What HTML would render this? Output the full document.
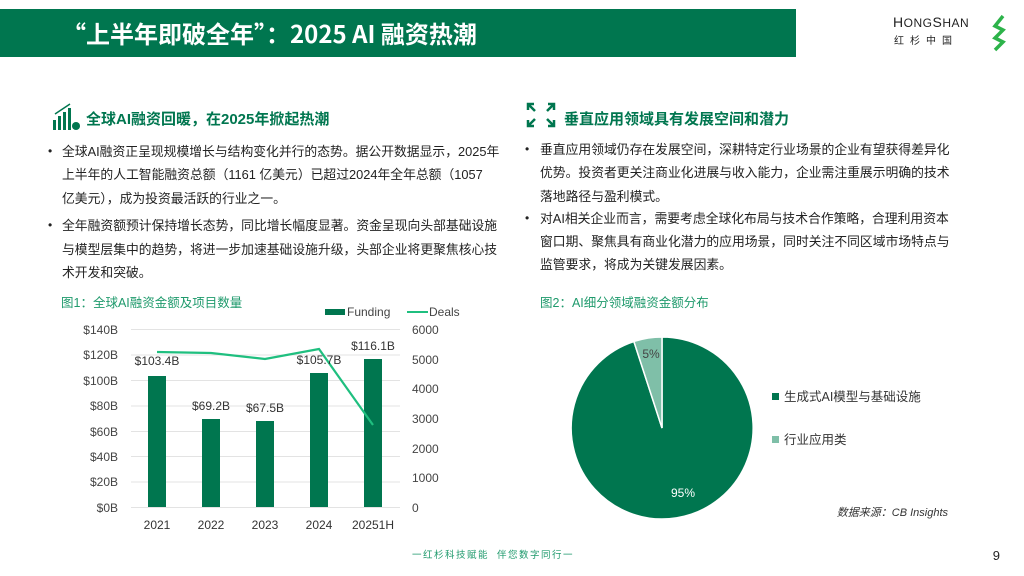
<!DOCTYPE html>
<html><head><meta charset="utf-8"><style>
body{margin:0;width:1024px;height:576px;background:#fff;overflow:hidden;position:relative;font-family:"Liberation Sans","Noto Sans CJK SC",sans-serif}
.t{position:absolute;font-size:12.8px;color:#222;white-space:nowrap;line-height:16px}
.b{position:absolute;font-size:12px;color:#222}
</style></head><body>
<div style="position:absolute;left:0;top:9px;width:796px;height:48px;background:#00764F"></div>
<div style="position:absolute;left:62px;top:14px;color:#fff;font-size:24px;font-weight:bold;line-height:38px;font-family:'Noto Sans CJK SC',sans-serif">“上半年即破全年”：2025 AI 融资热潮</div>
<div style="position:absolute;left:893px;top:14px;font-size:14px;color:#222;letter-spacing:0.5px">H<span style="font-size:12px">ONG</span>S<span style="font-size:12px">HAN</span></div>
<div style="position:absolute;left:894px;top:32px;font-size:10px;color:#222;letter-spacing:6px">红杉中国</div>
<svg style="position:absolute;left:0;top:0" width="1024" height="576">
<path d="M1003 16 L995 26 L1003 30 L995 38 L1003 42 L995 50" stroke="#2db34a" stroke-width="3.5" fill="none"/>
<g fill="#00764F"><rect x="53" y="120" width="3" height="10"/><rect x="58" y="116" width="3" height="14"/><rect x="63" y="112" width="3" height="18"/><rect x="68" y="108" width="3" height="22"/><circle cx="76" cy="126" r="4"/><path d="M55 114 L70 104" stroke="#00764F" stroke-width="1.5"/></g>
<g stroke="#00764F" stroke-width="2.5" fill="none"><path d="M528 110 L528 104 L534 104 M528 104 L535 111"/><path d="M548 104 L554 104 L554 110 M554 104 L547 111"/><path d="M528 120 L528 126 L534 126 M528 126 L535 119"/><path d="M548 126 L554 126 L554 120 M554 126 L547 119"/></g>
<g stroke="#e3e3e3" stroke-width="1">
<line x1="131" x2="400" y1="329.5" y2="329.5"/><line x1="131" x2="400" y1="355" y2="355"/><line x1="131" x2="400" y1="380.5" y2="380.5"/><line x1="131" x2="400" y1="406" y2="406"/><line x1="131" x2="400" y1="431.5" y2="431.5"/><line x1="131" x2="400" y1="456.5" y2="456.5"/><line x1="131" x2="400" y1="482" y2="482"/><line x1="131" x2="400" y1="507.5" y2="507.5"/></g>
<g fill="#00764F"><rect x="148" y="376" width="18" height="131"/><rect x="202" y="419" width="18" height="88"/><rect x="256" y="421" width="18" height="86"/><rect x="310" y="373" width="18" height="134"/><rect x="364" y="359" width="18" height="148"/></g>
<polyline points="157,352 211,353 265,359 319,349 373,425" fill="none" stroke="#1fbf7f" stroke-width="2.2"/>
<g font-size="12" fill="#333" text-anchor="middle">
<text x="157" y="365">$103.4B</text><text x="211" y="410">$69.2B</text><text x="265" y="412">$67.5B</text><text x="319" y="364">$105.7B</text><text x="373" y="350">$116.1B</text>
<text x="157" y="529">2021</text><text x="211" y="529">2022</text><text x="265" y="529">2023</text><text x="319" y="529">2024</text><text x="373" y="529">20251H</text></g>
<g font-size="12" fill="#444" text-anchor="end">
<text x="118" y="334">$140B</text><text x="118" y="359">$120B</text><text x="118" y="385">$100B</text><text x="118" y="410">$80B</text><text x="118" y="436">$60B</text><text x="118" y="461">$40B</text><text x="118" y="486">$20B</text><text x="118" y="512">$0B</text></g>
<g font-size="12" fill="#444">
<text x="412" y="334">6000</text><text x="412" y="364">5000</text><text x="412" y="393">4000</text><text x="412" y="423">3000</text><text x="412" y="453">2000</text><text x="412" y="482">1000</text><text x="412" y="512">0</text></g>
<rect x="325" y="309" width="20" height="6" fill="#00764F"/><text x="347" y="316" font-size="12" fill="#444">Funding</text>
<line x1="407" y1="312" x2="428" y2="312" stroke="#1fbf7f" stroke-width="2"/><text x="429" y="316" font-size="12" fill="#444">Deals</text>
<text x="61" y="307" font-size="12.5" fill="#1f9a6c">图1：全球AI融资金额及项目数量</text>
<path d="M662 428 L662 337 A91 91 0 1 1 633.9 341.5 Z" fill="#00764F" stroke="#fff" stroke-width="1.5"/>
<path d="M662 428 L633.9 341.5 A91 91 0 0 1 662 337 Z" fill="#7fbfa8" stroke="#fff" stroke-width="1.5"/>
<text x="651" y="358" font-size="12" fill="#444" text-anchor="middle">5%</text>
<text x="683" y="497" font-size="12" fill="#fff" text-anchor="middle">95%</text>
<rect x="772" y="393" width="7" height="7" fill="#00764F"/><text x="784" y="401" font-size="12.5" fill="#333">生成式AI模型与基础设施</text>
<rect x="772" y="436" width="7" height="7" fill="#7fbfa8"/><text x="784" y="444" font-size="12.5" fill="#333">行业应用类</text>
<text x="540" y="307" font-size="12.5" fill="#1f9a6c">图2：AI细分领域融资金额分布</text>
<text x="948" y="516" font-size="11" fill="#333" font-style="italic" text-anchor="end">数据来源：CB Insights</text>
<text x="412" y="558" font-size="9.5" fill="#1f9a6c" letter-spacing="1.5">一红杉科技赋能</text>
<text x="497" y="558" font-size="9.5" fill="#1f9a6c" letter-spacing="1.5">伴您数字同行一</text>
<text x="1000" y="560" font-size="13" fill="#222" text-anchor="end">9</text>
</svg>
<div style="position:absolute;left:86px;top:108px;font-size:15px;font-weight:bold;color:#00764F">全球AI融资回暖，在2025年掀起热潮</div>
<div style="position:absolute;left:564px;top:108px;font-size:15px;font-weight:bold;color:#00764F">垂直应用领域具有发展空间和潜力</div>
<div class="b" style="left:48px;top:144px">•</div>
<div class="t" style="left:62px;top:144px">全球AI融资正呈现规模增长与结构变化并行的态势。据公开数据显示，2025年</div>
<div class="t" style="left:62px;top:167px">上半年的人工智能融资总额（1161 亿美元）已超过2024年全年总额（1057</div>
<div class="t" style="left:62px;top:191px">亿美元），成为投资最活跃的行业之一。</div>
<div class="b" style="left:48px;top:218px">•</div>
<div class="t" style="left:62px;top:218px">全年融资额预计保持增长态势，同比增长幅度显著。资金呈现向头部基础设施</div>
<div class="t" style="left:62px;top:242px">与模型层集中的趋势，将进一步加速基础设施升级，头部企业将更聚焦核心技</div>
<div class="t" style="left:62px;top:265px">术开发和突破。</div>
<div class="b" style="left:525px;top:142px">•</div>
<div class="t" style="left:540px;top:142px">垂直应用领域仍存在发展空间，深耕特定行业场景的企业有望获得差异化</div>
<div class="t" style="left:540px;top:165px">优势。投资者更关注商业化进展与收入能力，企业需注重展示明确的技术</div>
<div class="t" style="left:540px;top:189px">落地路径与盈利模式。</div>
<div class="b" style="left:525px;top:211px">•</div>
<div class="t" style="left:540px;top:211px">对AI相关企业而言，需要考虑全球化布局与技术合作策略，合理利用资本</div>
<div class="t" style="left:540px;top:234px">窗口期、聚焦具有商业化潜力的应用场景，同时关注不同区域市场特点与</div>
<div class="t" style="left:540px;top:257px">监管要求，将成为关键发展因素。</div>
</body></html>
